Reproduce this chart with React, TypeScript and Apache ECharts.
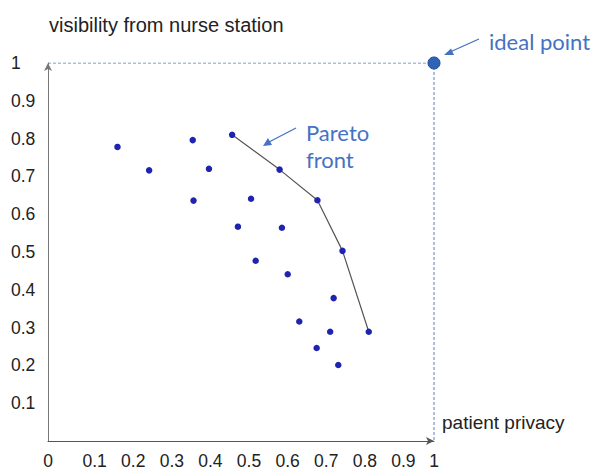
import React, { useEffect, useRef } from "react";
import * as echarts from "echarts";

// patient privacy (x) and visibility from nurse station (y) of every design option
const privacy = [0.18, 0.262, 0.375, 0.417, 0.377, 0.477, 0.526, 0.6, 0.492, 0.606, 0.698, 0.538, 0.621, 0.763, 0.74, 0.651, 0.731, 0.831, 0.696, 0.752];
const visibility = [0.778, 0.716, 0.796, 0.72, 0.636, 0.81, 0.641, 0.718, 0.567, 0.564, 0.637, 0.477, 0.441, 0.503, 0.378, 0.316, 0.289, 0.289, 0.246, 0.201];

// Pareto front
const paretoPrivacy = [0.477, 0.6, 0.698, 0.763, 0.831];
const paretoVisibility = [0.81, 0.718, 0.637, 0.503, 0.289];

// ideal point
const idealPrivacy = [1];
const idealVisibility = [1];

// dashed frame to the ideal point
const framePrivacy = [0, 1, 1];
const frameVisibility = [1, 1, 0];

const xTickLabels = ["0", "0.1", "0.2", "0.3", "0.4", "0.5", "0.6", "0.7", "0.8", "0.9", "1"];
const yTickLabels = ["", "0.1", "0.2", "0.3", "0.4", "0.5", "0.6", "0.7", "0.8", "0.9", "1"];

const BLUE = "#4472C4";
const FONT = "'Liberation Sans', Arial, sans-serif";
const ANNOT = "Lato, 'Open Sans', sans-serif";

export default function App() {
  const ref = useRef<HTMLDivElement>(null);
  useEffect(() => {
    if (!ref.current) return;
    const chart = echarts.init(ref.current, undefined, { renderer: "svg" });
    const option = {
      animation: false,
      backgroundColor: "#ffffff",
      title: {
        text: "visibility from nurse station",
        left: 44,
        top: 10,
        textStyle: { fontFamily: FONT, fontSize: 20, fontWeight: "normal", color: "#222" },
      },
      grid: { left: 48, right: 163, top: 63, bottom: 28, containLabel: false },
      xAxis: {
        type: "value",
        min: 0,
        max: 1,
        interval: 0.1,
        splitLine: { show: false },
        axisTick: { show: false },
        axisLine: { show: true, lineStyle: { color: "#555", width: 1 }, symbol: ["none", "arrow"], symbolSize: [6, 8], symbolOffset: [0, 0] },
        axisLabel: {
          margin: 11,
          color: "#222",
          fontFamily: FONT,
          fontSize: 17.5,
          formatter: (v: number) => {
            const i = Math.round(v * 10);
            const s = xTickLabels[i] ?? "";
            return i === 0 || i === 10 ? `{e|${s}}` : `{m|${s}}`;
          },
          rich: {
            e: { fontFamily: FONT, fontSize: 17.5, color: "#222" },
            m: { fontFamily: FONT, fontSize: 17.5, color: "#222", padding: [0, 0, 0, 16] },
          },
        },
      },
      yAxis: {
        type: "value",
        min: 0,
        max: 1,
        interval: 0.1,
        splitLine: { show: false },
        axisTick: { show: false },
        axisLine: { show: true, lineStyle: { color: "#777", width: 1 }, symbol: ["none", "arrow"], symbolSize: [6, 8] },
        axisLabel: {
          margin: 37,
          align: "left",
          color: "#222",
          fontFamily: FONT,
          fontSize: 17.5,
          formatter: (v: number) => yTickLabels[Math.round(v * 10)] ?? "",
        },
      },
      series: [
        {
          type: "line",
          data: framePrivacy.map((x, i) => [x, frameVisibility[i]]),
          symbol: "none",
          lineStyle: { color: "#5b7fc0", width: 1, type: [3, 2] },
          z: 1,
          silent: true,
        },
        {
          type: "line",
          data: paretoPrivacy.map((x, i) => [x, paretoVisibility[i]]),
          symbol: "none",
          lineStyle: { color: "#555", width: 1.2 },
          z: 2,
        },
        {
          type: "scatter",
          data: privacy.map((x, i) => [x, visibility[i]]),
          symbolSize: 6.5,
          itemStyle: { color: "#1f24b0", opacity: 1 },
          z: 3,
        },
        {
          type: "scatter",
          clip: false,
          data: idealPrivacy.map((x, i) => [x, idealVisibility[i]]),
          symbolSize: 12,
          itemStyle: { color: "#2f63b8", borderColor: "#1e4a91", borderWidth: 1, opacity: 1 },
          z: 4,
        },
      ],
      graphic: [
        {
          type: "text",
          x: 442,
          y: 422,
          style: { text: "patient privacy", fontFamily: FONT, fontSize: 19, fill: "#222", verticalAlign: "middle" },
        },
        {
          type: "text",
          x: 489,
          y: 41,
          style: { text: "ideal point", fontFamily: ANNOT, fontSize: 22, fill: BLUE, verticalAlign: "middle" },
        },
        {
          type: "text",
          x: 306,
          y: 132,
          style: { text: "Pareto", fontFamily: ANNOT, fontSize: 22, fill: BLUE, verticalAlign: "middle" },
        },
        {
          type: "text",
          x: 306,
          y: 159,
          style: { text: "front", fontFamily: ANNOT, fontSize: 22, fill: BLUE, verticalAlign: "middle" },
        },
        { type: "line", shape: { x1: 479, y1: 39, x2: 450, y2: 52 }, style: { stroke: BLUE, lineWidth: 1.3 } },
        { type: "polygon", shape: { points: [[444, 55], [451, 48.5], [454, 55]] }, style: { fill: BLUE } },
        { type: "line", shape: { x1: 296, y1: 128, x2: 269, y2: 142 }, style: { stroke: BLUE, lineWidth: 1.3 } },
        { type: "polygon", shape: { points: [[263, 146], [268, 138], [272, 145]] }, style: { fill: BLUE } },
      ],
    };
    chart.setOption(option as any);
    return () => chart.dispose();
  }, []);
  return <div ref={ref} style={{ position: "fixed", left: 0, top: 0, width: 597, height: 470 }} />;
}
